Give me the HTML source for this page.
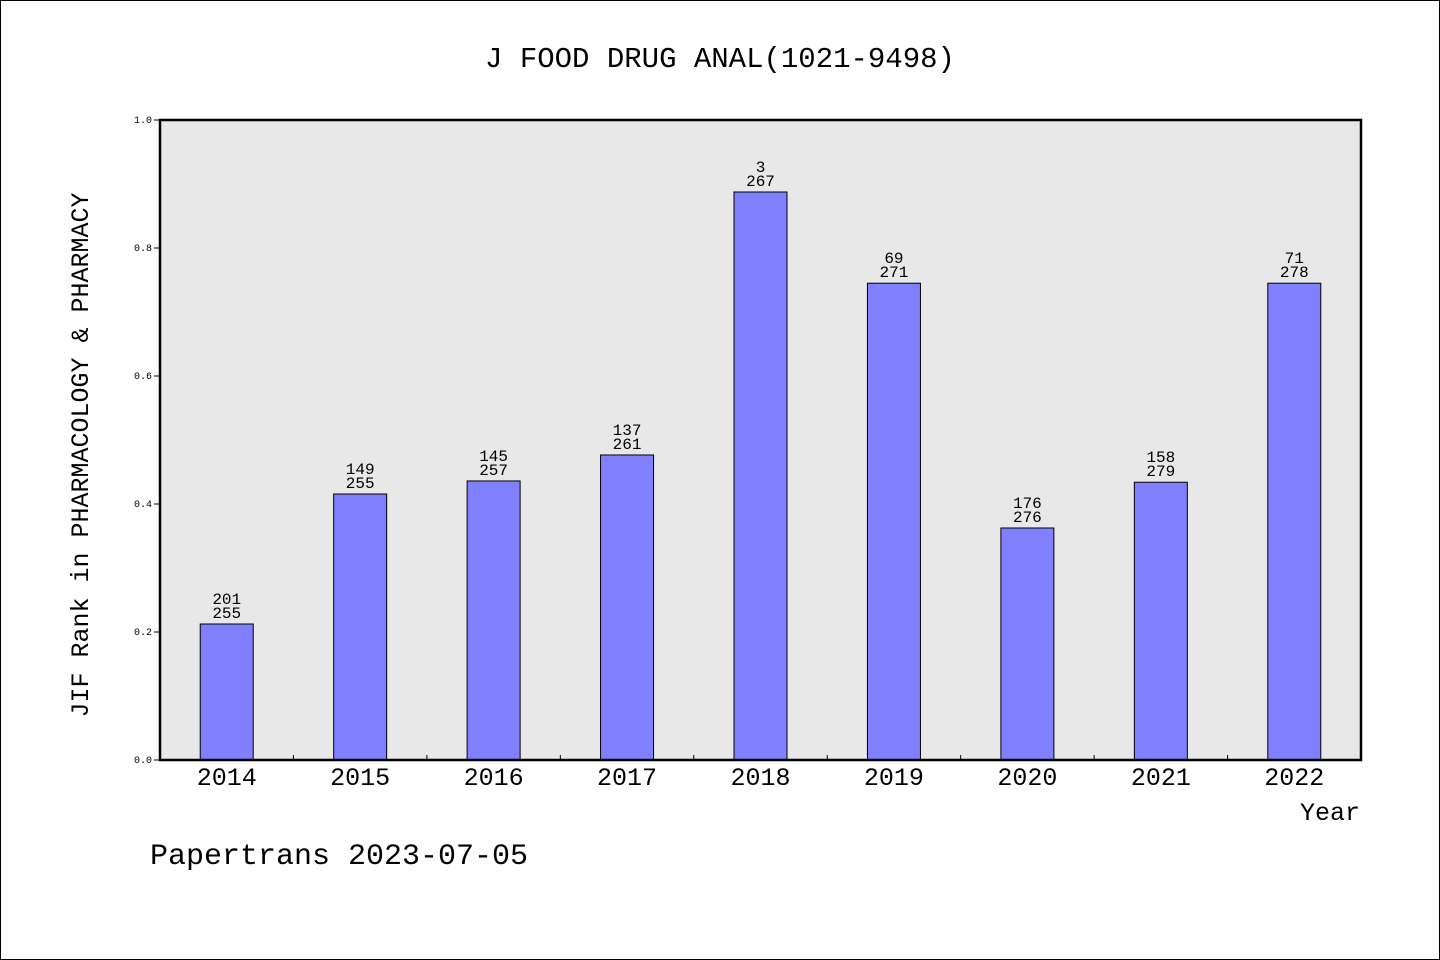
<!DOCTYPE html>
<html><head><meta charset="utf-8"><style>
html,body{margin:0;padding:0;background:#fff}
svg{display:block}
text{font-family:"Liberation Mono","DejaVu Sans Mono",monospace;fill:#000}
</style></head><body>
<svg id="chart" width="1440" height="960" viewBox="0 0 1440 960">
<rect x="0.5" y="0.5" width="1439" height="959" fill="#fff" stroke="#000"/>
<text x="720" y="67" font-size="29" text-anchor="middle">J FOOD DRUG ANAL(1021-9498)</text>
<rect x="160" y="120" width="1201" height="640" fill="#e8e8e8"/>
<g id="ticks"></g>
<g id="bars"></g>
<rect x="160" y="120" width="1201" height="640" fill="none" stroke="#000" stroke-width="2.5"/>
<text transform="translate(88,455) rotate(-90)" font-size="25" text-anchor="middle">JIF Rank in PHARMACOLOGY &amp; PHARMACY</text>
<text x="1360" y="820" font-size="25" text-anchor="end">Year</text>
<text x="150" y="864" font-size="30">Papertrans 2023-07-05</text>
</svg>
<script>
const categories = ["2014","2015","2016","2017","2018","2019","2020","2021","2022"];
const values = [0.2125,0.4156,0.436,0.4766,0.8875,0.745,0.3625,0.434,0.745];
const ranks = ["201","149","145","137","3","69","176","158","71"];
const totals = ["255","255","257","261","267","271","276","279","278"];
const yTicks = [0,0.2,0.4,0.6,0.8,1.0];
const yTickLabels = ["0.0","0.2","0.4","0.6","0.8","1.0"];

const NS="http://www.w3.org/2000/svg";
const L=160,R=1361,T=120,B=760;
const step=(R-L)/categories.length;
const xc=i=>L+step*(i+0.5);
const y=v=>B-(B-T)*v;
const bw=53;
const tg=document.getElementById('ticks'), bg=document.getElementById('bars');
function mk(tag,attrs,parent){const e=document.createElementNS(NS,tag);for(const k in attrs)e.setAttribute(k,attrs[k]);parent.appendChild(e);return e;}
yTicks.forEach((v,i)=>{
  const l=mk('line',{x1:L-6,x2:L,y1:y(v),y2:y(v),stroke:'#000','stroke-width':1},tg);
  
  
  const t=mk('text',{x:L-8,y:y(v)+3,'font-size':10,'text-anchor':'end'},tg);
  t.textContent=yTickLabels[i];
  
  
});
for(let i=1;i<categories.length;i++){
  const l=mk('line',{x1:L+step*i,x2:L+step*i,y1:B,y2:B-5,stroke:'#000','stroke-width':1},tg);
  
  
}
categories.forEach((c,i)=>{
  const r=mk('rect',{x:xc(i)-bw/2,y:y(values[i]),width:bw,height:B-y(values[i]),fill:'#8080ff',stroke:'#000','stroke-width':1},bg);
  
  
  const t1=mk('text',{x:xc(i),y:y(values[i])-20,'font-size':16,'text-anchor':'middle'},bg);
  t1.textContent=ranks[i];
  
  
  const t2=mk('text',{x:xc(i),y:y(values[i])-6,'font-size':16,'text-anchor':'middle'},bg);
  t2.textContent=totals[i];
  
  
  const xl=mk('text',{x:xc(i),y:785,'font-size':25,'text-anchor':'middle'},bg);
  xl.textContent=c;
  
  
});
</script>
</body></html>
